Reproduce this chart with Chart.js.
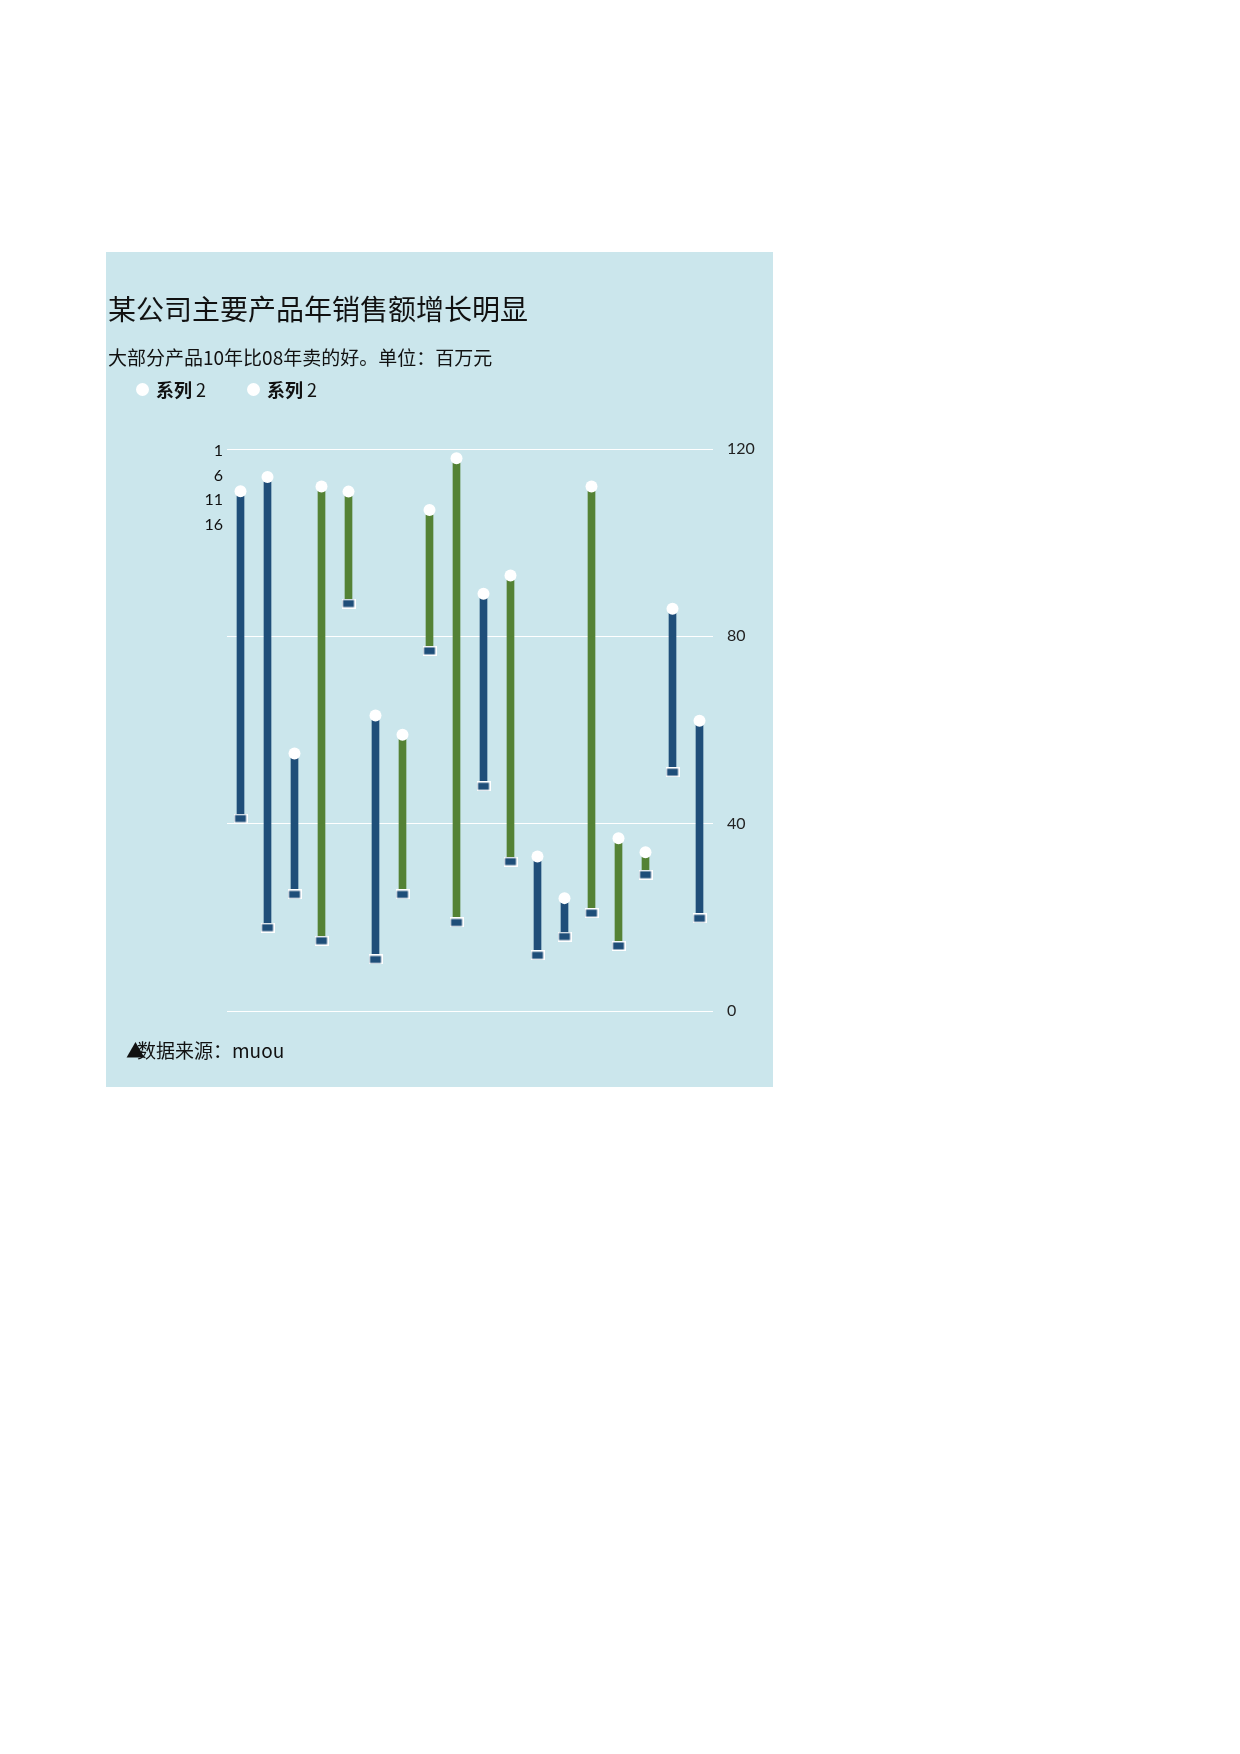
<!DOCTYPE html>
<html><head><meta charset="utf-8">
<script src="https://cdn.jsdelivr.net/npm/chart.js@4"></script>
<style>
body{margin:0;width:1240px;height:1754px;background:#fff;font-family:"Noto Sans CJK SC",Lato,sans-serif;position:relative}
#panel{position:absolute;left:106px;top:252px;width:667px;height:835px;background:#CBE6EC}
.t{position:absolute;white-space:nowrap;color:#111}
#c{position:absolute;left:0;top:0}
</style></head><body>
<div id="panel">
<canvas id="c" width="667" height="835"></canvas>
<div class="t" style="left:2px;top:36px;font-size:28px">某公司主要产品年销售额增长明显</div>
<div class="t" style="left:2px;top:91px;font-size:19px">大部分产品10年比08年卖的好。单位：百万元</div>
<div style="position:absolute;left:30px;top:131px;width:13px;height:13px;border-radius:50%;background:#fff"></div>
<div class="t" style="left:50px;top:124px;font-size:18px"><b>系列</b> 2</div>
<div style="position:absolute;left:141px;top:131px;width:13px;height:13px;border-radius:50%;background:#fff"></div>
<div class="t" style="left:161px;top:124px;font-size:18px"><b>系列</b> 2</div>
<div class="t" style="left:60px;top:186px;width:57px;text-align:right;font-size:16px;line-height:24.5px;font-family:Lato">1<br>6<br>11<br>16</div>
<div class="t" style="left:20px;top:784px;font-size:19px">▲<span style="margin-left:-8px">数据来源：muou</span></div>
</div>
<script>
const categories=['1','2','3','4','5','6','7','8','9','10','11','12','13','14','15','16','17','18'];
const topValues=[111,114,55,112,110.9,63.1,59,107,118,89.1,93,33,24.1,112,36.9,33.9,85.9,62];
const bottomValues=[41.1,17.8,24.9,15,87,11,24.9,76.9,18.9,48,31.9,11.9,15.9,20.9,13.9,29.1,51,19.8];
const barColors=['b','b','b','g','g','b','g','g','g','b','g','b','b','g','g','g','b','b'];
const yTicks=[0,40,80,120];
const BLUE='#1F4E79',GREEN='#548235';
const rc=document.createElement('canvas');rc.width=14;rc.height=10;
const x=rc.getContext('2d');x.fillStyle='#fff';x.fillRect(0,0,14,10);x.fillStyle=BLUE;x.fillRect(1.5,1.5,11,7);
new Chart(document.getElementById('c'),{
 data:{labels:categories,datasets:[
  {type:'bar',data:categories.map((c,i)=>[bottomValues[i],topValues[i]]),backgroundColor:barColors.map(c=>c==='b'?BLUE:GREEN),barThickness:7,order:3},
  {type:'line',data:bottomValues,showLine:false,pointStyle:rc,order:1},
  {type:'line',data:topValues,showLine:false,pointRadius:6,pointBackgroundColor:'#fff',pointBorderWidth:0,order:2}
 ]},
 options:{responsive:false,animation:false,
  layout:{padding:{left:121,top:197,bottom:76,right:0}},
  plugins:{legend:{display:false},tooltip:{enabled:false}},
  scales:{
   x:{display:false,offset:true},
   y:{position:'right',min:0,max:120,afterFit:s=>{s.width=60},
      afterBuildTicks:s=>{s.ticks=yTicks.map(v=>({value:v}))},
      grid:{color:'#ffffff',lineWidth:1,drawTicks:false},border:{display:false},
      ticks:{padding:14,color:'#222',font:{family:'Lato',size:16}}}
  }}
});
</script>
</body></html>
